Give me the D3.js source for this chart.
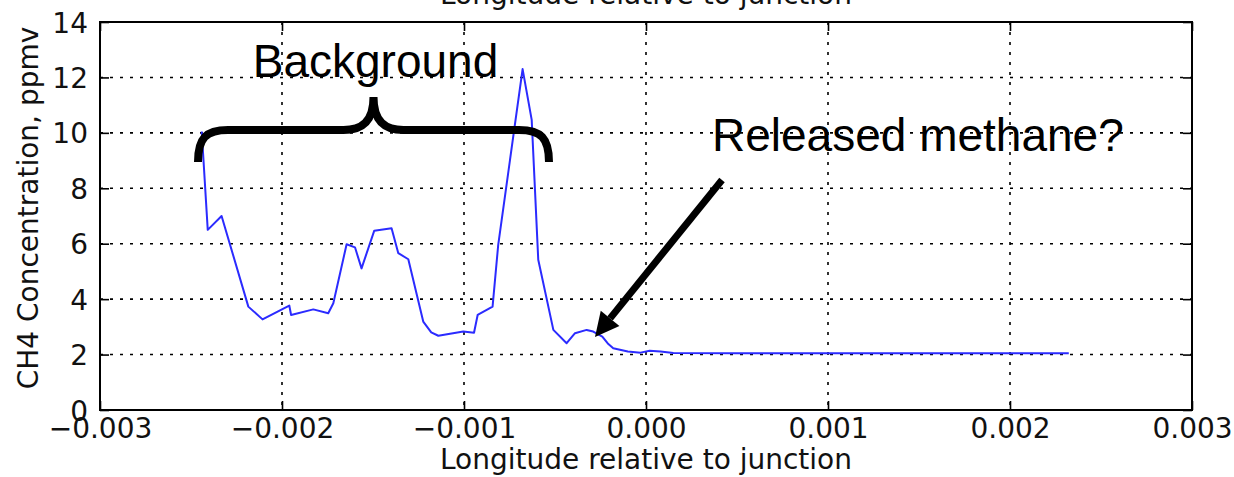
<!DOCTYPE html>
<html>
<head>
<meta charset="utf-8">
<script src="https://cdn.jsdelivr.net/npm/d3@7"></script>
<style>
  html, body { margin: 0; padding: 0; background: #fff; }
  svg { display: block; }
  .tick-label { font-family: "DejaVu Sans", sans-serif; font-size: 28px; fill: #111; }
  .axis-title { font-family: "DejaVu Sans", sans-serif; font-size: 28px; fill: #111; }
  .note { font-family: "Liberation Sans", Arial, sans-serif; font-size: 46px; fill: #000; }
</style>
</head>
<body>
<svg id="chart" width="1234" height="477"></svg>
<script>
// Longitude offset from the junction (degrees) and CH4 concentration (ppmv)
const longitude = [
  -0.002441, -0.002408, -0.002332, -0.002185, -0.002107, -0.001960, -0.001950,
  -0.001828, -0.001746, -0.001718, -0.001645, -0.001599, -0.001563, -0.001493,
  -0.001398, -0.001361, -0.001306, -0.001224, -0.001180, -0.001141, -0.001004,
  -0.000945, -0.000925, -0.000843, -0.000812, -0.000678, -0.000628, -0.000592,
  -0.000509, -0.000436, -0.000390, -0.000326, -0.000290, -0.000240, -0.000210,
  -0.000180, -0.000100, -0.000030, 0.000020, 0.000080, 0.000150, 0.000500,
  0.001000, 0.001500, 0.002000, 0.002323
];
const ch4 = [
  10.05, 6.50, 7.00, 3.73, 3.27, 3.77, 3.43,
  3.63, 3.49, 3.85, 5.98, 5.87, 5.11, 6.47,
  6.56, 5.66, 5.44, 3.19, 2.80, 2.68, 2.83,
  2.79, 3.43, 3.73, 5.96, 12.30, 10.47, 5.42,
  2.89, 2.41, 2.77, 2.89, 2.83, 2.65, 2.40,
  2.23, 2.11, 2.07, 2.14, 2.11, 2.06, 2.05,
  2.05, 2.05, 2.05, 2.05
];

const xTicks = [-0.003, -0.002, -0.001, 0.000, 0.001, 0.002, 0.003];
const yTicks = [0, 2, 4, 6, 8, 10, 12, 14];

const xTitle = "Longitude relative to junction";
const yTitle = "CH4 Concentration, ppmv";
const braceLabel = "Background";
const arrowLabel = "Released methane?";

const svg = d3.select("#chart");
const plot = { left: 100, right: 1192, top: 22, bottom: 410 };

const x = d3.scaleLinear().domain([-0.003, 0.003]).range([plot.left, plot.right]);
const y = d3.scaleLinear().domain([0, 14]).range([plot.bottom, plot.top]);
const fmtX = d3.format(".3f");

// dotted grid
const grid = svg.append("g").attr("stroke", "#000").attr("stroke-width", 1.6)
  .attr("stroke-dasharray", "3,7").attr("fill", "none");
grid.selectAll("line.gx").data(xTicks).join("line")
  .attr("x1", d => x(d)).attr("x2", d => x(d))
  .attr("y1", plot.top).attr("y2", plot.bottom);
grid.selectAll("line.gy").data(yTicks).join("line")
  .attr("x1", plot.left).attr("x2", plot.right)
  .attr("y1", d => y(d)).attr("y2", d => y(d));

// data line
const line = d3.line().x((d, i) => x(longitude[i])).y(d => y(d));
svg.append("path")
  .datum(ch4)
  .attr("d", line)
  .attr("fill", "none")
  .attr("stroke", "#2b2bff")
  .attr("stroke-width", 2)
  .attr("stroke-linejoin", "round");

// axes with inward ticks on all four sides
const tickLen = 9;
const axB = svg.append("g").attr("transform", `translate(0,${plot.bottom})`)
  .call(d3.axisBottom(x).tickValues(xTicks).tickSize(-tickLen).tickPadding(8).tickFormat(fmtX));
const axT = svg.append("g").attr("transform", `translate(0,${plot.top})`)
  .call(d3.axisTop(x).tickValues(xTicks).tickSize(-tickLen).tickFormat(""));
const axL = svg.append("g").attr("transform", `translate(${plot.left},0)`)
  .call(d3.axisLeft(y).tickValues(yTicks).tickSize(-tickLen).tickPadding(12).tickFormat(d3.format("d")));
const axR = svg.append("g").attr("transform", `translate(${plot.right},0)`)
  .call(d3.axisRight(y).tickValues(yTicks).tickSize(-tickLen).tickFormat(""));

[axB, axT, axL, axR].forEach(g => {
  g.select(".domain").remove();
  g.selectAll(".tick line").attr("stroke", "#000").attr("stroke-width", 1.6);
  g.selectAll(".tick text").attr("class", "tick-label").attr("font-size", null).attr("font-family", null);
});
axB.selectAll(".tick text").attr("dy", "0.71em");
axL.selectAll(".tick text").attr("dy", "0.36em");

// frame
svg.append("rect")
  .attr("x", plot.left).attr("y", plot.top)
  .attr("width", plot.right - plot.left).attr("height", plot.bottom - plot.top)
  .attr("fill", "none").attr("stroke", "#000").attr("stroke-width", 2);

// axis titles (the top one sits mostly above the page edge)
const xMid = (plot.left + plot.right) / 2;
svg.append("text").attr("class", "axis-title").attr("x", xMid).attr("y", 469)
  .attr("text-anchor", "middle").text(xTitle);
svg.append("text").attr("class", "axis-title").attr("x", xMid).attr("y", 4)
  .attr("text-anchor", "middle").text(xTitle);
svg.append("text").attr("class", "axis-title")
  .attr("transform", `translate(38,${(plot.top + plot.bottom) / 2 - 8}) rotate(-90)`)
  .attr("text-anchor", "middle").attr("font-size", 30).text(yTitle);

// brace over the background stretch
const bx0 = 198, bx1 = 549, bTop = 130, bEnd = 162, bTip = 97;
const bMid = (bx0 + bx1) / 2;
const r = 30;
const bracePath = [
  `M${bx0},${bEnd}`,
  `C${bx0},${bTop + 8} ${bx0 + 8},${bTop} ${bx0 + r},${bTop}`,
  `L${bMid - 30},${bTop}`,
  `C${bMid - 12},${bTop} ${bMid},${bTop - 8} ${bMid},${bTip}`,
  `C${bMid},${bTop - 8} ${bMid + 12},${bTop} ${bMid + 30},${bTop}`,
  `L${bx1 - r},${bTop}`,
  `C${bx1 - 8},${bTop} ${bx1},${bTop + 8} ${bx1},${bEnd}`
].join(" ");
svg.append("path").attr("d", bracePath).attr("fill", "none")
  .attr("stroke", "#000").attr("stroke-width", 8).attr("stroke-linecap", "butt");
svg.append("text").attr("class", "note").attr("x", bMid + 2).attr("y", 77)
  .attr("text-anchor", "middle").text(braceLabel);

// arrow pointing at the small bump near the junction
const a0 = [722, 180], a1 = [595, 337];
const ang = Math.atan2(a1[1] - a0[1], a1[0] - a0[0]);
const headLen = 24, headHalf = 12;
const base = [a1[0] - headLen * Math.cos(ang), a1[1] - headLen * Math.sin(ang)];
svg.append("line")
  .attr("x1", a0[0]).attr("y1", a0[1]).attr("x2", base[0]).attr("y2", base[1])
  .attr("stroke", "#000").attr("stroke-width", 7);
svg.append("path")
  .attr("d", `M${a1[0]},${a1[1]} L${base[0] + headHalf * Math.sin(ang)},${base[1] - headHalf * Math.cos(ang)} L${base[0] - headHalf * Math.sin(ang)},${base[1] + headHalf * Math.cos(ang)} Z`)
  .attr("fill", "#000");
svg.append("text").attr("class", "note").attr("x", 712).attr("y", 151).text(arrowLabel);
</script>
</body>
</html>
